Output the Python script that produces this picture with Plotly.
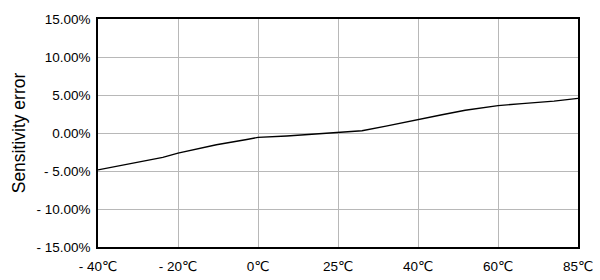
import plotly.graph_objects as go

# Axis categories (equally spaced temperature ticks)
temp_labels = ["- 40℃", "- 20℃", "0℃", "25℃", "40℃", "60℃", "85℃"]
temp_positions = [0, 1, 2, 3, 4, 5, 6]

# Curve samples: position along the temperature axis and sensitivity error (%)
curve_pos = [0.0, 0.4, 0.81, 1.0, 1.2, 1.48, 1.86, 2.0, 2.36, 2.74, 3.0,
             3.3, 3.6, 4.0, 4.3, 4.59, 5.0, 5.3, 5.7, 6.0]
curve_err = [-4.85, -4.0, -3.2, -2.65, -2.2, -1.55, -0.85, -0.57, -0.39, -0.13, 0.0,
             0.3, 0.9, 1.7, 2.4, 3.0, 3.6, 3.86, 4.2, 4.56]

y_ticks = [-15, -10, -5, 0, 5, 10, 15]
y_labels = ["- 15.00%", "- 10.00%", "- 5.00%", "0.00%", "5.00%", "10.00%", "15.00%"]

fig = go.Figure()
fig.add_trace(go.Scatter(
    x=curve_pos, y=curve_err, mode="lines",
    line=dict(color="black", width=1.4),
    showlegend=False, hoverinfo="skip",
))

font_family = "Liberation Sans, Arial, DejaVu Sans, sans-serif"

fig.update_layout(
    width=600, height=280,
    margin=dict(l=98, r=22, t=19, b=33),
    paper_bgcolor="white", plot_bgcolor="white",
    font=dict(family=font_family, size=13.5, color="black"),
)
fig.update_xaxes(
    range=[0, 6], tickvals=temp_positions, ticktext=temp_labels,
    showgrid=True, gridcolor="#b8b8b8", gridwidth=1,
    showline=True, linecolor="black", linewidth=1.5, mirror=True,
    ticks="", zeroline=False, tickfont=dict(size=13.5),
    ticklabelstandoff=6, automargin=False,
)
fig.update_yaxes(
    range=[-15, 15], tickvals=y_ticks, ticktext=y_labels,
    showgrid=True, gridcolor="#b8b8b8", gridwidth=1,
    showline=True, linecolor="black", linewidth=1.5, mirror=True,
    ticks="", zeroline=False, tickfont=dict(size=13.5),
    ticklabelstandoff=3, automargin=False,
    title=dict(text="Sensitivity error", font=dict(size=17.5), standoff=6),
)

fig.write_html("out.html")
